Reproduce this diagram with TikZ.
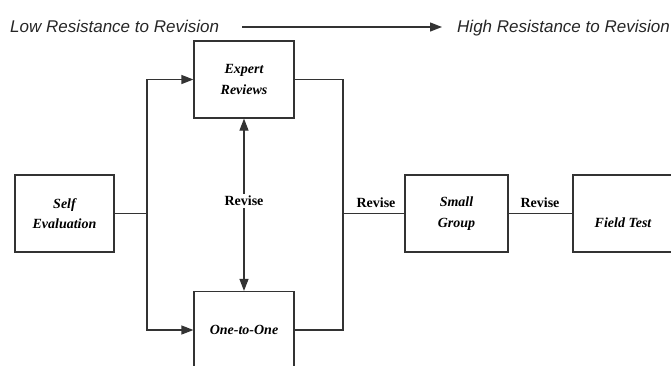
\documentclass[tikz,border=0pt]{standalone}
\usepackage{fontspec}
\setmainfont{Liberation Serif}
\newfontfamily\arialf{Liberation Sans}
\usetikzlibrary{arrows.meta}
\begin{document}
\begin{tikzpicture}[x=1pt,y=-1pt,
  >={Triangle[length=12pt,width=9pt]},
  box/.style={draw=linegray, line width=1.2pt, minimum width=100pt, minimum height=77pt, inner sep=0pt, align=center, font=\fontsize{14}{20.5}\selectfont\bfseries\itshape},
  conn/.style={draw=linegray, line width=1.2pt},
  rev/.style={font=\fontsize{14}{16}\selectfont\bfseries, inner sep=1pt},
  toptext/.style={font=\fontsize{17}{20}\selectfont\arialf\itshape, anchor=base, text=black!85, inner sep=0pt}]
\definecolor{linegray}{gray}{0.2}
\useasboundingbox (0,0) rectangle (671,365);
% top
\node[toptext, anchor=base west] (low) at (10,32) {Low Resistance to Revision};
\node[toptext, anchor=base west] (high) at (457,32) {High Resistance to Revision};
\coordinate (a1) at (242,27);
\coordinate (a2) at (442,27);
\draw[conn, line width=1.3pt, ->] (a1) -- (a2);
% boxes
\node[box, minimum width=99pt] (self) at (64.5,213.5) {Self\\Evaluation};
\node[box] (expert) at (244,79.5) {Expert\\Reviews};
\node[box] (one) at (244,330) {One-to-One};
\node[box, minimum width=103pt] (small) at (456.5,213.5) {Small\\Group};
\node[box] (field) at (623,213.5) {};
\node[font=\fontsize{14}{20}\selectfont\bfseries\itshape] (fieldtxt) at (623,223) {Field Test};
% connectors
\coordinate (j1) at (147,213.5);
\coordinate (j2) at (343,213.5);
\draw[conn] (self.east) -- (j1);
\draw[conn, ->] (j1) |- (expert.west);
\draw[conn, ->] (j1) |- (one.west);
\node[rev] (revmid) at (244,201) {Revise};
\draw[conn, ->] (revmid.north) ++(0,-1) -- (expert.south);
\draw[conn, ->] (revmid.south) ++(0,1) -- (one.north);
\draw[conn] (expert.east) -| (j2) |- (one.east);
\draw[conn] (j2) -- (small.west);
\node[rev] (rev1) at (376,203) {Revise};
\draw[conn] (small.east) -- (field.west);
\node[rev] (rev2) at (540,203) {Revise};
\end{tikzpicture}
\end{document}
